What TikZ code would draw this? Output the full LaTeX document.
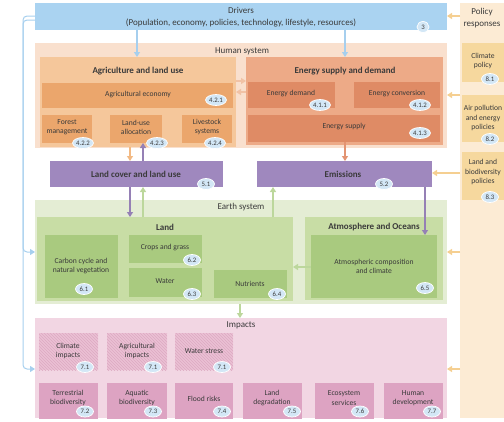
\documentclass[tikz,border=0pt]{standalone}
\usepackage{fontspec}
\setmainfont{Carlito}
\usetikzlibrary{arrows.meta,shapes.geometric,patterns}
\definecolor{drvc}{HTML}{AAD3F1}
\definecolor{drvline}{HTML}{A6CFEE}
\definecolor{humbg}{HTML}{F9E0CE}
\definecolor{agric}{HTML}{F5C79B}
\definecolor{agrid}{HTML}{EBA66C}
\definecolor{enerc}{HTML}{EDAA87}
\definecolor{enerd}{HTML}{DF8B65}
\definecolor{purp}{HTML}{9F88BE}
\definecolor{purpline}{HTML}{9580B5}
\definecolor{earthbg}{HTML}{E4EDD4}
\definecolor{landc}{HTML}{C8DDA5}
\definecolor{landd}{HTML}{A9CA7F}
\definecolor{impbg}{HTML}{F2D6E3}
\definecolor{imph}{HTML}{EBC0D4}
\definecolor{imphl}{HTML}{DDAAC2}
\definecolor{impd}{HTML}{DDA3C2}
\definecolor{polbg}{HTML}{FCEBD4}
\definecolor{polbox}{HTML}{F6D89E}
\definecolor{polarr}{HTML}{F5CF91}
\definecolor{badgec}{HTML}{D3E7F6}
\definecolor{txtc}{HTML}{3A3A3A}
\definecolor{agriarr}{HTML}{F2B983}
\definecolor{enarr}{HTML}{E39472}
\definecolor{greenarr}{HTML}{BCD79C}
\definecolor{humarr}{HTML}{F1C2A5}
\newcommand\mkbox[6]{%
  \pgfmathsetmacro\bxw{#5-#3}\pgfmathsetmacro\bxh{#6-#4}%
  \node[#2, draw=none, anchor=north west, inner sep=0, outer sep=0,
        minimum width=\bxw pt, minimum height=\bxh pt] (#1) at (#3,#4) {};}
\begin{document}
\begin{tikzpicture}[x=1pt,y=-1pt,
  txt/.style={font=\fontsize{7.6}{9.2}\selectfont, text=txtc, align=center, inner sep=0},
  ttl/.style={font=\bfseries\fontsize{9}{10}\selectfont, text=txtc, inner sep=0},
  hdr/.style={font=\fontsize{9}{12}\selectfont, text=txtc, inner sep=0, align=center},
  badge/.style={ellipse, fill=badgec, draw=white, line width=0.7pt, inner xsep=0.5pt, inner ysep=0pt,
     minimum width=17pt, minimum height=11pt, font=\fontsize{6.8}{7}\selectfont, text=txtc},
  arr/.style={-{Triangle[length=5pt,width=6pt]}, line width=1.3pt},
  hatch/.style={fill=imph, postaction={pattern=north west lines, pattern color=imphl}},
]
\useasboundingbox (0,0) rectangle (504,421);
\clip (0,0) rectangle (504,418);
% helper coordinates
\coordinate (xa) at (130,0); \coordinate (xb) at (143,0); \coordinate (xc) at (345,0);
\coordinate (xd) at (273,0); \coordinate (xe) at (425,0); \coordinate (xf) at (240,0);
\coordinate (xl) at (23,0);  \coordinate (xg) at (137,0);
\coordinate (y16) at (0,16); \coordinate (y20) at (0,20); \coordinate (y81) at (0,81);
\coordinate (y92) at (0,92); \coordinate (y95) at (0,95); \coordinate (y173) at (0,173);
\coordinate (y252) at (0,252); \coordinate (y267) at (0,267); \coordinate (y369) at (0,369);

% Policy column
\mkbox{pol}{fill=polbg}{460}{3}{504}{418}
\node[hdr] (polt) at (482,18) {Policy\\responses};
\mkbox{p1}{fill=polbox}{462}{43}{504}{82}
\node[txt] (p1t) at (483,61) {Climate\\policy};
\node[badge] (p1b) at (490,79) {8.1};
\mkbox{p2}{fill=polbox}{462}{95}{504}{142}
\node[txt] (p2t) at (483,118) {Air pollution\\and energy\\policies};
\node[badge] (p2b) at (490,139) {8.2};
\mkbox{p3}{fill=polbox}{462}{152}{504}{200}
\node[txt] (p3t) at (483,172) {Land and\\biodiversity\\policies};
\node[badge] (p3b) at (490,197) {8.3};

% Drivers
\mkbox{drv}{fill=drvc}{35}{3}{447}{30}
\node[hdr] (drvt) at (241,17) {Drivers\\(Population, economy, policies, technology, lifestyle, resources)};
\node[badge, minimum width=12pt] (drvb) at (423,27) {3};

% Human system
\mkbox{hum}{fill=humbg}{35}{43}{447}{148}
\node[hdr] (humt) at (242,51) {Human system};
\mkbox{agri}{fill=agric}{40}{57}{236}{147}
\node[ttl] (agrit) at (138,71) {Agriculture and land use};
\mkbox{ae}{fill=agrid}{42}{83}{233}{108}
\node[txt] (aet) at (138,95) {Agricultural economy};
\node[badge] (aeb) at (216,100) {4.2.1};
\mkbox{fm}{fill=agrid}{42}{115}{92}{143}
\node[txt] (fmt) at (67,127) {Forest\\management};
\node[badge] (fmb) at (83,143) {4.2.2};
\mkbox{lu}{fill=agrid}{110}{115}{162}{143}
\node[txt] (lut) at (136,127) {Land-use\\allocation};
\node[badge] (lub) at (157,143) {4.2.3};
\mkbox{ls}{fill=agrid}{182}{115}{232}{143}
\node[txt] (lst) at (207,127) {Livestock\\systems};
\node[badge] (lsb) at (215,143) {4.2.4};

\mkbox{en}{fill=enerc}{246}{57}{443}{145}
\node[ttl] (ent) at (345,71) {Energy supply and demand};
\mkbox{ed}{fill=enerd}{248}{82}{335}{108}
\node[txt] (edt) at (291,94) {Energy demand};
\node[badge] (edb) at (320,105) {4.1.1};
\mkbox{ec}{fill=enerd}{354}{82}{440}{108}
\node[txt] (ect) at (397,94) {Energy conversion};
\node[badge] (ecb) at (420,105) {4.1.2};
\mkbox{es}{fill=enerd}{248}{115}{440}{142}
\node[txt] (est) at (344,127) {Energy supply};
\node[badge] (esb) at (420,133) {4.1.3};

% Land cover / Emissions
\mkbox{lc}{fill=purp}{50}{161}{223}{187}
\node[ttl] (lct) at (136,174) {Land cover and land use};
\node[badge] (lcb) at (206,184) {5.1};
\mkbox{em}{fill=purp}{257}{161}{432}{187}
\node[ttl] (emt) at (343,174) {Emissions};
\node[badge] (emb) at (384,184) {5.2};

% Earth system
\mkbox{earth}{fill=earthbg}{35}{200}{447}{304}
\node[hdr] (eartht) at (241,207) {Earth system};
\mkbox{land}{fill=landc}{37}{217}{293}{301}
\node[ttl] (landt) at (165,227) {Land};
\mkbox{cc}{fill=landd}{45}{235}{118}{298}
\node[txt] (cct) at (81,266) {Carbon cycle and\\natural vegetation};
\node[badge] (ccb) at (84,289) {6.1};
\mkbox{cg}{fill=landd}{129}{235}{202}{263}
\node[txt] (cgt) at (165,248) {Crops and grass};
\node[badge] (cgb) at (192,260) {6.2};
\mkbox{wa}{fill=landd}{129}{268}{202}{297}
\node[txt] (wat) at (165,281) {Water};
\node[badge] (wab) at (192,294) {6.3};
\mkbox{nu}{fill=landd}{214}{270}{287}{298}
\node[txt] (nut) at (250,284) {Nutrients};
\node[badge] (nub) at (277,294) {6.4};
\mkbox{atm}{fill=landc}{305}{217}{443}{300}
\node[ttl] (atmt) at (374,227) {Atmosphere and Oceans};
\mkbox{ac}{fill=landd}{311}{235}{437}{298}
\node[txt] (act) at (374,266) {Atmospheric composition\\and climate};
\node[badge] (acb) at (425,288) {6.5};

% Impacts
\mkbox{imp}{fill=impbg}{35}{318}{447}{418}
\node[hdr] (impt) at (241,325) {Impacts};
\mkbox{i1}{hatch}{39}{333}{98}{370}
\node[txt] (i1t) at (68,351) {Climate\\impacts};
\node[badge] (i1b) at (85,367) {7.1};
\mkbox{i2}{hatch}{107}{333}{167}{370}
\node[txt] (i2t) at (137,351) {Agricultural\\impacts};
\node[badge] (i2b) at (153,367) {7.1};
\mkbox{i3}{hatch}{175}{333}{233}{370}
\node[txt] (i3t) at (204,351) {Water stress};
\node[badge] (i3b) at (222,367) {7.1};
\mkbox{j1}{fill=impd}{39}{383}{98}{425}
\node[txt] (j1t) at (68,398) {Terrestrial\\biodiversity};
\node[badge] (j1b) at (85,411.5) {7.2};
\mkbox{j2}{fill=impd}{107}{383}{167}{425}
\node[txt] (j2t) at (137,398) {Aquatic\\biodiversity};
\node[badge] (j2b) at (153,411.5) {7.3};
\mkbox{j3}{fill=impd}{175}{383}{233}{425}
\node[txt] (j3t) at (204,399) {Flood risks};
\node[badge] (j3b) at (222,411.5) {7.4};
\mkbox{j4}{fill=impd}{243}{383}{302}{425}
\node[txt] (j4t) at (272,398) {Land\\degradation};
\node[badge] (j4b) at (292,411.5) {7.5};
\mkbox{j5}{fill=impd}{315}{383}{374}{425}
\node[txt] (j5t) at (344,398) {Ecosystem\\services};
\node[badge] (j5b) at (360,411.5) {7.6};
\mkbox{j6}{fill=impd}{384}{383}{443}{425}
\node[txt] (j6t) at (413,398) {Human\\development};
\node[badge] (j6b) at (432,411.5) {7.7};

% Arrows: drivers
\draw[arr, drvline] (xg |- drv.south) -- (xg |- agri.north);
\draw[arr, drvline] (xc |- drv.south) -- (xc |- en.north);
\draw[arr, drvline, line width=1pt, rounded corners=4pt] (drv.west |- y16) -- (xl |- y16) -- (xl |- y252) -- (earth.west |- y252);
\draw[arr, drvline, line width=1pt, rounded corners=4pt] (drv.west |- y20) -- (xl |- y20) -- (xl |- y369) -- (imp.west |- y369);
% human system internal
\draw[arr, humarr] (agri.east |- y81) -- (en.west |- y81);
\draw[arr, humarr] (en.west |- y92) -- (agri.east |- y92);
\draw[arr, agriarr] (xa |- agri.south) -- (xa |- lc.north);
\draw[arr, purpline] (xb |- lc.north) -- (xb |- lu.south);
\draw[arr, enarr] (xc |- es.south) -- (xc |- em.north);
% land cover / emissions to earth
\draw[arr, purpline] (xa |- lc.south) -- (xa |- land.north);
\draw[arr, greenarr] (xb |- land.north) -- (xb |- lc.south);
\draw[arr, greenarr] (xd |- land.north) -- (xd |- em.south);
\draw[arr, purpline] (xe |- em.south) -- (xe |- ac.north);
\draw[arr, greenarr] (ac.west |- y267) -- (land.east |- y267);
\draw[arr, greenarr] (xf |- earth.south) -- (xf |- imp.north);
% policy arrows
\draw[arr, polarr] (pol.west |- y16) -- (drv.east |- y16);
\draw[arr, polarr] (pol.west |- y95) -- (hum.east |- y95);
\draw[arr, polarr] (pol.west |- y173) -- (em.east |- y173);
\draw[arr, polarr] (pol.west |- y252) -- (earth.east |- y252);
\draw[arr, polarr] (pol.west |- y369) -- (imp.east |- y369);
\end{tikzpicture}
\end{document}
